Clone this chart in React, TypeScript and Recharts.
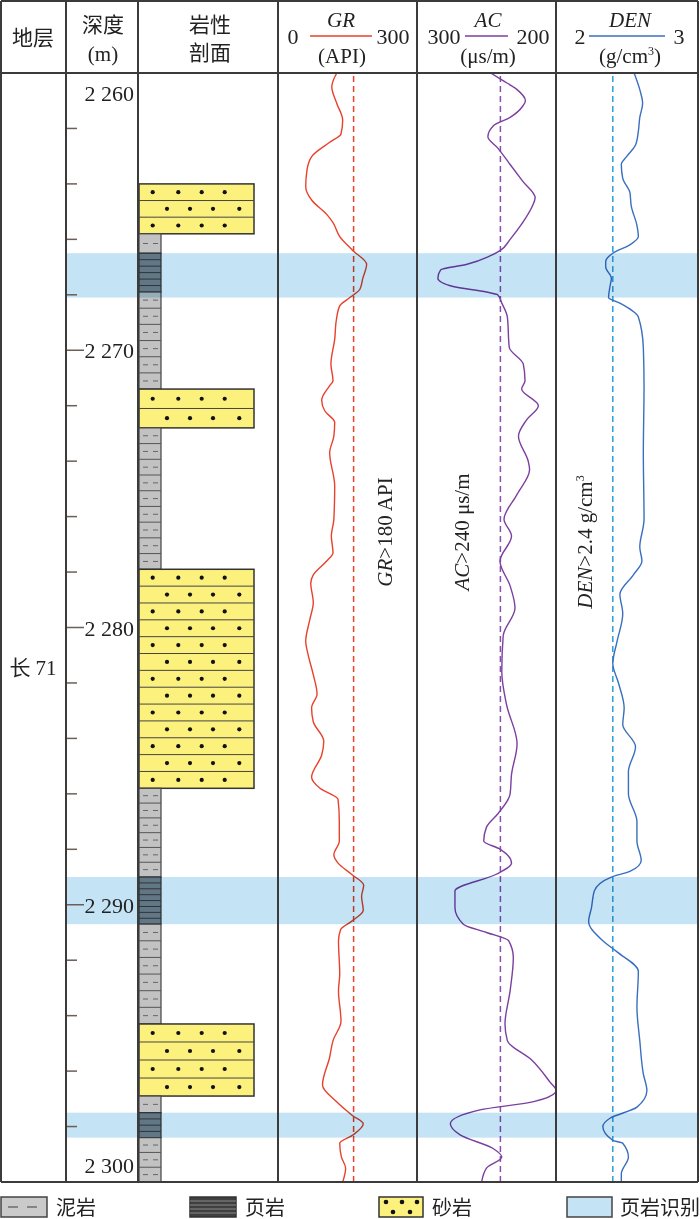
import React from "react";
import {ComposedChart, Line, XAxis, YAxis, ReferenceArea, ReferenceLine} from "recharts";

// depth axis (m)
const depthDomain = [2260, 2300];
const depthTicks = [2260, 2262, 2264, 2266, 2268, 2270, 2272, 2274, 2276, 2278, 2280,
    2282, 2284, 2286, 2288, 2290, 2292, 2294, 2296, 2298, 2300];
const depthLabels = [2260, 2270, 2280, 2290, 2300];

// shale identification intervals (top, bottom)
const shaleBands = [[2266.5, 2268.1], [2289.0, 2290.7], [2297.5, 2298.4]];

// lithology column
const lithology = [
    {top: 2264.0, bottom: 2265.8, rock: "sand"},
    {top: 2265.8, bottom: 2266.5, rock: "mud"},
    {top: 2266.5, bottom: 2267.9, rock: "shale"},
    {top: 2267.9, bottom: 2271.4, rock: "mud"},
    {top: 2271.4, bottom: 2272.8, rock: "sand"},
    {top: 2272.8, bottom: 2277.9, rock: "mud"},
    {top: 2277.9, bottom: 2285.8, rock: "sand"},
    {top: 2285.8, bottom: 2289.0, rock: "mud"},
    {top: 2289.0, bottom: 2290.7, rock: "shale"},
    {top: 2290.7, bottom: 2294.3, rock: "mud"},
    {top: 2294.3, bottom: 2296.9, rock: "sand"},
    {top: 2296.9, bottom: 2297.5, rock: "mud"},
    {top: 2297.5, bottom: 2298.4, rock: "shale"},
    {top: 2298.4, bottom: 2300.0, rock: "mud"},
];

// [depth, GR (API)]
const grLog = [
    [2260.0, 140], [2260.5, 128], [2261.1, 140], [2261.7, 154], [2262.2, 150], [2262.5, 123],
    [2263.0, 81], [2263.5, 69], [2264.1, 66], [2264.6, 81], [2265.1, 116], [2265.4, 131],
    [2265.9, 147], [2266.4, 178], [2266.9, 211], [2267.4, 202], [2267.8, 195], [2268.1, 171],
    [2268.4, 147], [2268.9, 139], [2269.6, 135], [2270.5, 126], [2271.1, 131], [2271.3, 122],
    [2271.8, 104], [2272.2, 112], [2272.6, 135], [2273.1, 133], [2273.7, 123], [2274.9, 135],
    [2276.1, 133], [2276.7, 127], [2277.3, 131], [2277.6, 116], [2278.1, 84], [2278.4, 78],
    [2279.1, 84], [2279.7, 76], [2280.5, 66], [2281.0, 72], [2281.7, 84], [2282.4, 93],
    [2282.9, 80], [2283.4, 84], [2284.1, 109], [2284.6, 104], [2285.4, 80], [2285.8, 100],
    [2286.2, 143], [2287.0, 146], [2287.7, 146], [2288.2, 133], [2288.5, 143], [2288.9, 175],
    [2289.3, 204], [2289.7, 199], [2290.2, 203], [2290.6, 175], [2290.9, 149], [2291.3, 144],
    [2292.5, 147], [2293.1, 144], [2294.2, 150], [2294.9, 131], [2295.5, 123], [2296.5, 106],
    [2297.1, 139], [2297.6, 177], [2297.9, 203], [2298.3, 179], [2298.6, 147], [2299.1, 151],
    [2299.5, 161], [2300.0, 154],
];

// [depth, AC (μs/m)]
const acLog = [
    [2260.0, 247], [2260.25, 239], [2260.6, 228], [2261.0, 222], [2261.2, 224], [2261.6, 233],
    [2261.9, 245], [2262.3, 249], [2262.7, 242], [2263.3, 233], [2263.9, 224], [2264.5, 215],
    [2264.8, 217], [2265.4, 224], [2266.0, 233], [2266.4, 240], [2266.6, 247.5], [2266.9, 264],
    [2267.1, 283], [2267.4, 285], [2267.7, 274], [2267.9, 250], [2268.0, 242], [2268.3, 239],
    [2268.8, 235], [2269.9, 233.6], [2270.5, 223.5], [2271.1, 222.3], [2271.4, 224.7], [2272.0, 212.7],
    [2272.5, 221], [2273.1, 227], [2274.0, 220], [2274.3, 219], [2275.2, 228], [2276.1, 237.4],
    [2276.7, 232], [2277.6, 240.3], [2278.5, 233], [2279.3, 229.5], [2280.3, 238], [2281.6, 239],
    [2282.8, 235.5], [2284.2, 228], [2285.3, 232], [2286.0, 233], [2286.7, 241.5], [2287.2, 250],
    [2287.7, 252], [2288.0, 240], [2288.5, 232], [2288.9, 243], [2289.5, 272.7], [2290.1, 272.7],
    [2290.7, 266.7], [2291.0, 250], [2291.3, 234], [2291.9, 230.7], [2293.1, 233], [2294.3, 236.7],
    [2294.9, 235], [2295.6, 217.5], [2296.4, 204.3], [2296.7, 200], [2297.1, 216], [2297.4, 254.7],
    [2297.9, 276], [2298.3, 269], [2298.8, 245], [2299.1, 239], [2299.5, 250], [2300.0, 253.5],
];

// [depth, DEN (g/cm3)]
const denLog = [
    [2260.0, 2.55], [2260.6, 2.59], [2261.1, 2.61], [2261.6, 2.59], [2262.1, 2.58], [2262.6, 2.56],
    [2263.0, 2.50], [2263.3, 2.46], [2263.8, 2.47], [2264.3, 2.52], [2264.8, 2.53], [2265.5, 2.57],
    [2265.9, 2.58], [2266.2, 2.52], [2266.5, 2.40], [2266.8, 2.35], [2267.0, 2.35], [2267.4, 2.39],
    [2267.7, 2.38], [2268.1, 2.37], [2268.3, 2.45], [2268.8, 2.58], [2269.9, 2.615], [2271.3, 2.62],
    [2273.7, 2.615], [2276.1, 2.62], [2277.1, 2.59], [2277.6, 2.605], [2278.1, 2.545], [2278.8, 2.45],
    [2279.5, 2.47], [2280.5, 2.43], [2281.3, 2.40], [2282.0, 2.44], [2282.9, 2.48], [2283.5, 2.47],
    [2284.3, 2.56], [2285.2, 2.51], [2286.0, 2.51], [2287.0, 2.57], [2287.7, 2.57], [2288.4, 2.60],
    [2288.8, 2.52], [2289.0, 2.39], [2289.5, 2.27], [2290.1, 2.25], [2290.6, 2.23], [2291.3, 2.33],
    [2291.7, 2.43], [2292.4, 2.58], [2293.7, 2.57], [2294.9, 2.59], [2296.1, 2.615], [2296.7, 2.64],
    [2297.3, 2.57], [2297.7, 2.38], [2298.0, 2.33], [2298.5, 2.40], [2298.6, 2.47], [2299.1, 2.51],
    [2299.7, 2.46], [2300.0, 2.46],
];

const grCutoff = 180;
const acCutoff = 240;
const denCutoff = 2.4;

// layout
const TOP = 73;
const BODY_H = 1109;
const BASE_LEFT = 66;
const BASE_W = 632;
const FONT = '"Liberation Serif", "Noto Sans CJK SC", serif';
const LINE_C = "#3b3b3b";
const BAND_C = "#c4e3f4";
const SAND_C = "#fdf17e";
const MUD_C = "#c2c2c2";
const SHALE_C = "#80868b";

const cols = [1, 66, 138, 278, 417, 556, 698];

function SandShape(p: any) {
    const {x, y, width, height} = p;
    const rows = Math.max(1, Math.round(height / 16.7));
    const rh = height / rows;
    const dotsA = [13.7, 39.3, 62.7, 85.7];
    const dotsB = [28, 51, 74, 100.3];
    const items: any[] = [];
    for (let i = 0; i < rows; i++) {
        const cy = y + rh * i + rh / 2;
        if (i > 0) items.push(<line key={"l" + i} x1={x} x2={x + width} y1={y + rh * i} y2={y + rh * i} stroke="#444" strokeWidth={1}/>);
        (i % 2 === 0 ? dotsA : dotsB).forEach((dx, j) => items.push(<circle key={"d" + i + "_" + j} cx={x + dx} cy={cy} r={2.1} fill="#111"/>));
    }
    return (
        <g>
            <rect x={x} y={y} width={width} height={height} fill={SAND_C} stroke="#333" strokeWidth={1.5}/>
            {items}
        </g>
    );
}

function MudShape(p: any) {
    const {x, y, width, height} = p;
    const rows = Math.max(1, Math.round(height / 16));
    const rh = height / rows;
    const items: any[] = [];
    for (let i = 0; i < rows; i++) {
        const cy = y + rh * i + rh / 2;
        if (i > 0) items.push(<line key={"l" + i} x1={x} x2={x + width} y1={y + rh * i} y2={y + rh * i} stroke="#555" strokeWidth={1}/>);
        items.push(<line key={"a" + i} x1={x + 4} x2={x + 9} y1={cy} y2={cy} stroke="#666" strokeWidth={1}/>);
        items.push(<line key={"b" + i} x1={x + 14} x2={x + 19} y1={cy} y2={cy} stroke="#666" strokeWidth={1}/>);
    }
    return (
        <g>
            <rect x={x} y={y} width={width} height={height} fill={MUD_C} stroke="#444" strokeWidth={1.2}/>
            {items}
        </g>
    );
}

function ShaleShape(p: any) {
    const {x, y, width, height} = p;
    const n = Math.max(2, Math.round(height / 6));
    const step = height / n;
    const items: any[] = [];
    for (let i = 1; i < n; i++) {
        items.push(<line key={i} x1={x} x2={x + width} y1={y + step * i} y2={y + step * i} stroke="#3a3a3a" strokeWidth={1}/>);
    }
    return (
        <g>
            <rect x={x} y={y} width={width} height={height} fill={SHALE_C} stroke="#333" strokeWidth={1.2}/>
            {items}
        </g>
    );
}

function BandShape(p: any) {
    return <rect x={p.x} y={p.y} width={p.width} height={p.height} fill={BAND_C} style={{mixBlendMode: "multiply"}}/>;
}

function DepthTick(p: any) {
    const v = p.payload.value;
    const y = p.y;
    const labelled = depthLabels.includes(v);
    const txt = `${Math.floor(v / 1000)} ${String(v % 1000).padStart(3, "0")}`;
    if (v === depthDomain[0]) {
        return <text x={68} y={y + 28} textAnchor="end" fontSize={22} fontFamily={FONT} fill="#222">{txt}</text>;
    }
    if (v === depthDomain[1]) {
        return <text x={68} y={y - 9} textAnchor="end" fontSize={22} fontFamily={FONT} fill="#222">{txt}</text>;
    }
    return (
        <g>
            <line x1={0} x2={labelled ? 18 : 11} y1={y} y2={y} stroke="#6b5f58" strokeWidth={1.5}/>
            {labelled && <text x={68} y={y + 8} textAnchor="end" fontSize={22} fontFamily={FONT} fill="#222">{txt}</text>}
        </g>
    );
}

// depth scale, lithology column and the shale bands across all tracks
function BaseChart() {
    const lithX = 73;
    const mudW = 22;
    const sandW = 115;
    const data = depthTicks.map((depth) => ({depth}));
    return (
        <div style={{position: "absolute", left: BASE_LEFT, top: TOP, mixBlendMode: "multiply", pointerEvents: "none"}}>
            <ComposedChart width={BASE_W} height={BODY_H} data={data} layout="vertical"
                           margin={{top: 0, right: 0, bottom: 0, left: 0}}>
                <XAxis type="number" domain={[0, BASE_W]} hide allowDataOverflow/>
                <YAxis type="number" dataKey="depth" domain={depthDomain} mirror ticks={depthTicks} interval={0}
                       axisLine={false} tickLine={false} tick={(p: any) => <DepthTick {...p}/>} allowDataOverflow/>
                {lithology.map((l, i) => (
                    <ReferenceArea key={"lith" + i} x1={lithX} x2={lithX + (l.rock === "sand" ? sandW : mudW)}
                                   y1={l.top} y2={l.bottom} ifOverflow="visible"
                                   shape={(p: any) => l.rock === "sand" ? <SandShape {...p}/> : l.rock === "mud" ? <MudShape {...p}/> : <ShaleShape {...p}/>}/>
                ))}
                {shaleBands.map((b, i) => (
                    <ReferenceArea key={"band" + i} x1={1} x2={BASE_W} y1={b[0]} y2={b[1]} ifOverflow="visible"
                                   shape={(p: any) => <BandShape {...p}/>}/>
                ))}
            </ComposedChart>
        </div>
    );
}

type TrackProps = {
    left: number, width: number, log: number[][], name: string, domain: number[],
    reversed?: boolean, padRight?: number, color: string, cutoff: number, cutoffColor: string
};

function LogTrack({left, width, log, name, domain, reversed, padRight, color, cutoff, cutoffColor}: TrackProps) {
    const data = log.map(([depth, v]) => ({depth, [name]: v}));
    return (
        <div style={{position: "absolute", left, top: TOP}}>
            <ComposedChart width={width} height={BODY_H} data={data} layout="vertical"
                           margin={{top: 0, right: 0, bottom: 0, left: 0}}>
                <XAxis type="number" domain={domain} reversed={reversed} hide allowDataOverflow
                       padding={{left: 0, right: padRight || 0}}/>
                <YAxis type="number" dataKey="depth" domain={depthDomain} hide allowDataOverflow/>
                <ReferenceLine x={cutoff} stroke={cutoffColor} strokeWidth={1.5} strokeDasharray="6 4"/>
                <Line type="monotone" dataKey={name} stroke={color} strokeWidth={1.4} dot={false}
                      activeDot={false} isAnimationActive={false}/>
            </ComposedChart>
        </div>
    );
}

function Overlay() {
    const t = {fontFamily: FONT, fill: "#222"};
    return (
        <svg width={700} height={1219} style={{position: "absolute", left: 0, top: 0, pointerEvents: "none"}}>
            {/* table frame */}
            {cols.map((x) => <line key={x} x1={x} x2={x} y1={1} y2={1182} stroke={LINE_C} strokeWidth={2}/>)}
            {[1, 73, 1182].map((y) => <line key={y} x1={1} x2={698} y1={y} y2={y} stroke={LINE_C} strokeWidth={2}/>)}

            {/* header */}
            <text x={33} y={45} textAnchor="middle" fontSize={21} {...t}>地层</text>
            <text x={103} y={32} textAnchor="middle" fontSize={21} {...t}>深度</text>
            <text x={103} y={61} textAnchor="middle" fontSize={21} {...t}>(m)</text>
            <text x={210} y={32} textAnchor="middle" fontSize={21} {...t}>岩性</text>
            <text x={210} y={60} textAnchor="middle" fontSize={21} {...t}>剖面</text>

            <text x={293} y={44} textAnchor="middle" fontSize={22} {...t}>0</text>
            <text x={341} y={27} textAnchor="middle" fontSize={21} fontStyle="italic" {...t}>GR</text>
            <line x1={310} x2={372} y1={36} y2={36} stroke="#e8412c" strokeWidth={1.5}/>
            <text x={393} y={44} textAnchor="middle" fontSize={22} {...t}>300</text>
            <text x={342} y={63} textAnchor="middle" fontSize={21} {...t}>(API)</text>

            <text x={444} y={44} textAnchor="middle" fontSize={22} {...t}>300</text>
            <text x={488} y={27} textAnchor="middle" fontSize={21} fontStyle="italic" {...t}>AC</text>
            <line x1={465} x2={508} y1={36} y2={36} stroke="#7b3f9e" strokeWidth={1.5}/>
            <text x={533} y={44} textAnchor="middle" fontSize={22} {...t}>200</text>
            <text x={488} y={63} textAnchor="middle" fontSize={21} {...t}>(μs/m)</text>

            <text x={580} y={44} textAnchor="middle" fontSize={22} {...t}>2</text>
            <text x={630} y={27} textAnchor="middle" fontSize={21} fontStyle="italic" {...t}>DEN</text>
            <line x1={589} x2={665} y1={36} y2={36} stroke="#3a6fbf" strokeWidth={1.5}/>
            <text x={679} y={44} textAnchor="middle" fontSize={22} {...t}>3</text>
            <text x={630} y={63} textAnchor="middle" fontSize={21} {...t}>(g/cm<tspan fontSize={12} dy={-8}>3</tspan><tspan dy={8}>)</tspan></text>

            {/* stratum */}
            <text x={33} y={675} textAnchor="middle" fontSize={21} {...t}>长 71</text>

            {/* cut-off annotations */}
            <text transform="translate(392,532) rotate(-90)" textAnchor="middle" fontSize={21} {...t}>
                <tspan fontStyle="italic">GR</tspan>&gt;180 API
            </text>
            <text transform="translate(469,532) rotate(-90)" textAnchor="middle" fontSize={21} {...t}>
                <tspan fontStyle="italic">AC</tspan>&gt;240 μs/m
            </text>
            <text transform="translate(592,542) rotate(-90)" textAnchor="middle" fontSize={21} {...t}>
                <tspan fontStyle="italic">DEN</tspan>&gt;2.4 g/cm<tspan fontSize={12} dy={-8}>3</tspan>
            </text>

            {/* legend */}
            <rect x={1} y={1197} width={46} height={20} fill="#cacaca" stroke="#444" strokeWidth={1.5}/>
            <line x1={8} x2={18} y1={1207} y2={1207} stroke="#555" strokeWidth={1.2}/>
            <line x1={27} x2={37} y1={1207} y2={1207} stroke="#555" strokeWidth={1.2}/>
            <text x={56} y={1215} fontSize={20} {...t}>泥岩</text>

            <rect x={190} y={1197} width={46} height={20} fill="#3f3f3f" stroke="#333" strokeWidth={1.5}/>
            {[1201, 1205, 1209, 1213].map((y) => <line key={y} x1={190} x2={236} y1={y} y2={y} stroke="#8a8a8a" strokeWidth={1}/>)}
            <text x={245} y={1215} fontSize={20} {...t}>页岩</text>

            <rect x={379} y={1197} width={44} height={20} fill={SAND_C} stroke="#333" strokeWidth={1.5}/>
            {[[386, 1202], [402, 1202], [417, 1202], [393, 1212], [410, 1212]].map(([cx, cy]) => <circle key={cx} cx={cx} cy={cy} r={2.3} fill="#111"/>)}
            <text x={432} y={1215} fontSize={20} {...t}>砂岩</text>

            <rect x={567} y={1197} width={45} height={20} fill={BAND_C} stroke="#444" strokeWidth={1.5}/>
            <text x={620} y={1215} fontSize={20} {...t}>页岩识别</text>
        </svg>
    );
}

export default function App() {
    return (
        <div style={{position: "absolute", left: 0, top: 0, width: 700, height: 1219, background: "#fff"}}>
            <LogTrack left={278} width={139} log={grLog} name="gr" domain={[0, 300]} padRight={13}
                      color="#e8412c" cutoff={grCutoff} cutoffColor="#e8412c"/>
            <LogTrack left={417} width={139} log={acLog} name="ac" domain={[200, 300]} reversed
                      color="#7b3f9e" cutoff={acCutoff} cutoffColor="#8a4fb0"/>
            <LogTrack left={556} width={142} log={denLog} name="den" domain={[2, 3]}
                      color="#3a6fbf" cutoff={denCutoff} cutoffColor="#2a9fd8"/>
            <BaseChart/>
            <Overlay/>
        </div>
    );
}
